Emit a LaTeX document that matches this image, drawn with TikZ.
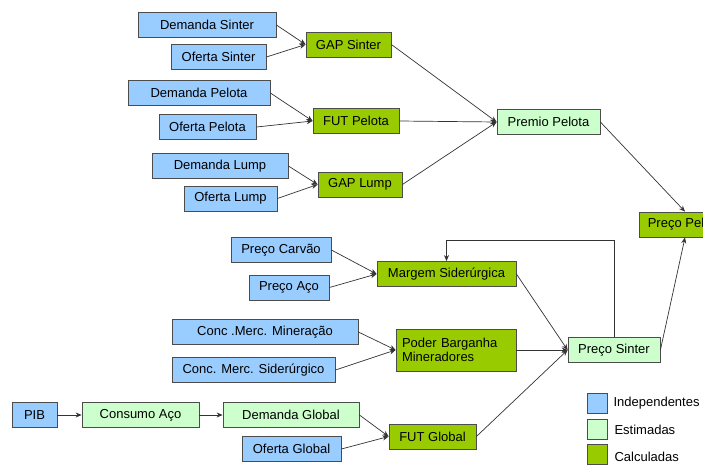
\documentclass[tikz,border=0pt]{standalone}
\usepackage{fontspec}
\setmainfont{Liberation Sans}
\usepackage{xcolor}
\usetikzlibrary{arrows.meta,positioning}

\definecolor{indepblue}{HTML}{99CCFF}
\definecolor{estimgreen}{HTML}{CCFFCC}
\definecolor{calcgreen}{HTML}{99CC00}

\tikzset{
  box/.style={draw=black!70, line width=0.8pt, minimum height=25pt, inner sep=3pt,
    font=\fontsize{13}{15}\selectfont},
  indep/.style={box, fill=indepblue},
  estim/.style={box, fill=estimgreen},
  calc/.style={box, fill=calcgreen},
  link/.style={draw=black!80, line width=0.7pt, -{Stealth[length=6pt,width=5pt]}},
  legtext/.style={anchor=west, font=\fontsize{13}{15}\selectfont}
}

\begin{document}
\begin{tikzpicture}[x=1pt,y=-1pt]

\useasboundingbox (0,0) rectangle (703,466);
\clip (0,0) rectangle (703,466);

% Sinter
\node[indep, minimum width=138pt] (dsinter) at (207,25) {Demanda Sinter};
\node[indep, minimum width=95pt] (osinter) at (218.5,57) {Oferta Sinter};
\node[calc, minimum width=85pt] (gsinter) at (348.5,44.5) {GAP Sinter};

% Pelota
\node[indep, minimum width=142pt] (dpelota) at (199,93) {Demanda Pelota};
\node[indep, minimum width=97pt] (opelota) at (207.5,127) {Oferta Pelota};
\node[calc, minimum width=86pt] (fpelota) at (356,121) {FUT Pelota};

% Lump
\node[indep, minimum width=136pt] (dlump) at (220,166) {Demanda Lump};
\node[indep, minimum width=93pt] (olump) at (230.5,198.5) {Oferta Lump};
\node[calc, minimum width=84pt] (glump) at (360,184.5) {GAP Lump};

% Premio e preco pelota
\node[estim, minimum width=103pt] (premio) at (548.5,122) {Premio Pelota};
\node[calc, minimum width=92pt] (ppelota) at (685,224.5) {Preço Pelota};

% Margem
\node[indep, minimum width=100pt] (carvao) at (281,250) {Preço Carvão};
\node[indep, minimum width=80pt] (paco) at (289,287.5) {Preço Aço};
\node[calc, minimum width=139pt] (margem) at (446.5,274) {Margem Siderúrgica};

% Poder de barganha
\node[indep, minimum width=186pt] (cmin) at (265,332) {Conc .Merc. Mineração};
\node[indep, minimum width=163pt] (csid) at (253.5,370) {Conc. Merc. Siderúrgico};
\node[calc, minimum width=120pt, minimum height=42pt, align=left, text width=108pt,
  font=\fontsize{13}{14.5}\selectfont] (poder) at (456,350) {Poder Barganha\\Mineradores};

% Global
\node[indep, minimum width=45pt] (pib) at (34.5,415) {PIB};
\node[estim, minimum width=117pt] (consumo) at (140.5,415) {Consumo Aço};
\node[estim, minimum width=136pt] (dglobal) at (291,415) {Demanda Global};
\node[indep, minimum width=99pt] (oglobal) at (291.5,449) {Oferta Global};
\node[calc, minimum width=87pt] (fglobal) at (432.5,436.5) {FUT Global};

% Preco sinter
\node[estim, minimum width=92pt] (psinter) at (614,350) {Preço Sinter};

% Links
\draw[link] (dsinter.east) -- (gsinter.west);
\draw[link] (osinter.east) -- (gsinter.west);
\draw[link] (dpelota.east) -- (fpelota.west);
\draw[link] (opelota.east) -- (fpelota.west);
\draw[link] (dlump.east) -- (glump.west);
\draw[link] (olump.east) -- (glump.west);
\draw[link] (gsinter.east) -- (premio.west);
\draw[link] (fpelota.east) -- (premio.west);
\draw[link] (glump.east) -- (premio.west);
\draw[link] (premio.east) -- (ppelota.north);
\draw[link] (carvao.east) -- (margem.west);
\draw[link] (paco.east) -- (margem.west);
\draw[link] (cmin.east) -- (poder.west);
\draw[link] (csid.east) -- (poder.west);
\draw[link] (pib.east) -- (consumo.west);
\draw[link] (consumo.east) -- (dglobal.west);
\draw[link] (dglobal.east) -- (fglobal.west);
\draw[link] (oglobal.east) -- (fglobal.west);
\draw[link] (margem.east) -- (psinter.west);
\draw[link] (poder.east) -- (psinter.west);
\draw[link] (fglobal.east) -- (psinter.west);
\draw[link] (psinter.east) -- (ppelota.south);
\draw[link] (psinter.north) -- ++(0,-97) -| (margem.north);

% Legenda
\node[indep, minimum width=20pt, minimum height=20pt, inner sep=0pt] (lind) at (597,403.5) {};
\node[estim, minimum width=20pt, minimum height=20pt, inner sep=0pt] (lest) at (597,429) {};
\node[calc, minimum width=20pt, minimum height=20pt, inner sep=0pt] (lcalc) at (597,454.5) {};
\node[legtext] (tind) at (610,403) {Independentes};
\node[legtext] (test) at (611,430) {Estimadas};
\node[legtext] (tcalc) at (611,457) {Calculadas};

\end{tikzpicture}
\end{document}
